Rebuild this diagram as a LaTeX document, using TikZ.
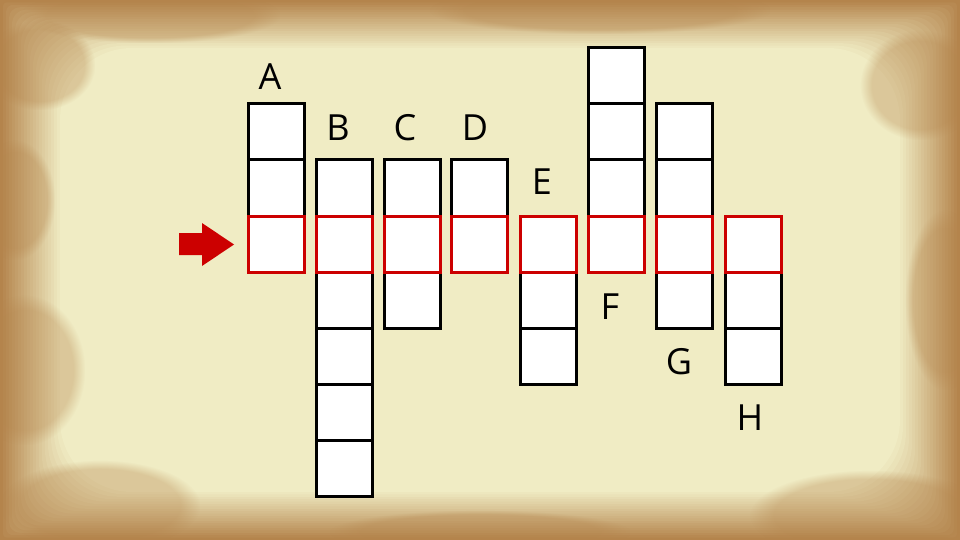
\documentclass[tikz,border=0pt]{standalone}
\usepackage{fontspec}
\setmainfont{Open Sans}
\usetikzlibrary{fadings}
\definecolor{parchlight}{HTML}{F0ECC4}
\definecolor{parchmid}{HTML}{E3CF98}
\definecolor{parchdark}{HTML}{B4844C}
\definecolor{cellred}{HTML}{CC0000}
\tikzset{
  cell/.style={draw=black, fill=white, line width=3pt, minimum size=56pt, inner sep=0pt, outer sep=0pt},
  redcell/.style={cell, draw=cellred, line width=3pt},
  letter/.style={font=\fontsize{36}{36}\selectfont, text=black, inner sep=0pt},
  blotch/.style={fill=parchdark, fill opacity=0.35, path fading=circle with fuzzy edge 20 percent},
}
\begin{document}
\begin{tikzpicture}[x=1pt,y=-1pt]
\useasboundingbox (0,0) rectangle (960,540);
% parchment background: rectangular vignette
\fill[parchdark] (0,0) rectangle (960,540);
\foreach \k in {0,...,20}{
  \pgfmathsetmacro\ins{3*\k}
  \pgfmathtruncatemacro\pct{5*\k}
  \fill[parchlight!\pct!parchdark, rounded corners=\ins*1.2pt] (\ins,\ins*0.8) rectangle (960-\ins,540-\ins*0.8);
}
% soft blotches for texture
\foreach \bx/\by/\rx/\ry in {25/370/60/75, 15/200/40/60, 100/505/100/45, 870/515/120/45, 945/300/40/90, 150/15/130/28, 600/10/170/24, 480/532/150/22, 40/65/55/45, 920/85/60/55}{
  \fill[blotch] (\bx-\rx,\by-\ry) rectangle (\bx+\rx,\by+\ry);
}
% cells (black ones first)
\foreach \c/\x/\top/\n in {A/248/104/3, B/316/160/6, C/384/160/3, D/451/160/2, E/520/216/3, F/588/48/4, G/656/104/4, H/725/216/3}{
  \foreach \i in {1,...,\n}{
    \pgfmathtruncatemacro\yy{\top+(\i-1)*56}
    \ifnum\yy=216\relax\else
      \node[cell] (\c-\i) at (\x+28,\yy+28) {};
    \fi
  }
}
% red row
\foreach \c/\x/\top in {A/248/104, B/316/160, C/384/160, D/451/160, E/520/216, F/588/48, G/656/104, H/725/216}{
  \pgfmathtruncatemacro\ii{(216-\top)/56+1}
  \node[redcell] (\c-\ii) at (\x+28,244) {};
}
% labels
\node[letter] (labA) at (270,77) {A};
\node[letter] (labB) at (338,128) {B};
\node[letter] (labC) at (405,128) {C};
\node[letter] (labD) at (475,128) {D};
\node[letter] (labE) at (542,182) {E};
\node[letter] (labF) at (610,307) {F};
\node[letter] (labG) at (679,362) {G};
\node[letter] (labH) at (750,418) {H};
% arrow
\fill[cellred] (179,233) -- (202,233) -- (202,223) -- (234,244.5) -- (202,266) -- (202,255) -- (179,255) -- cycle;
\end{tikzpicture}
\end{document}
